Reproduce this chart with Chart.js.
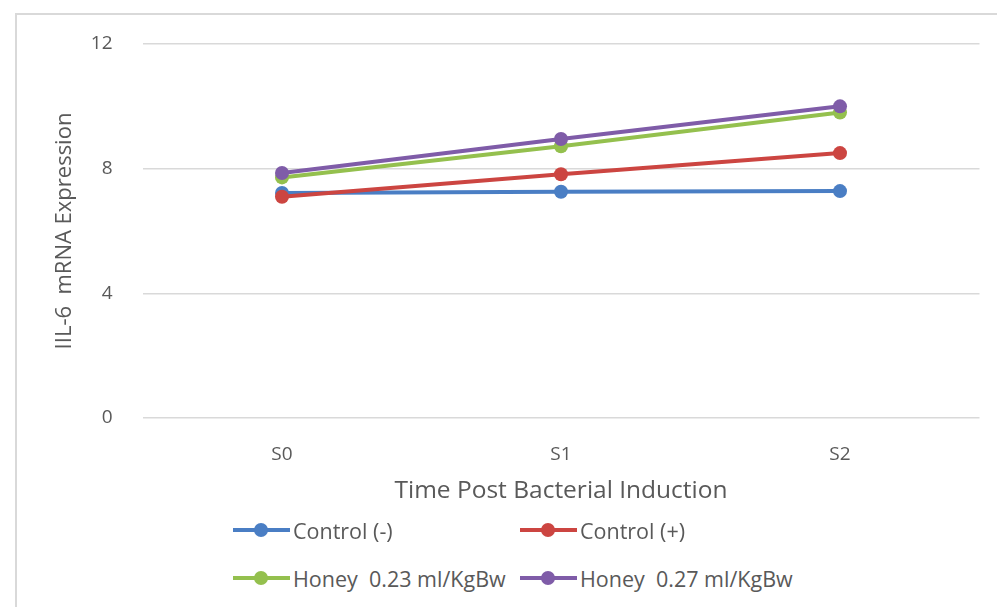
<!DOCTYPE html>
<html lang="en">
<head>
  <meta charset="UTF-8" />
  <title>IL-6 mRNA Expression</title>
  <script src="https://cdn.jsdelivr.net/npm/chart.js"></script>
  <style>
    body {
      margin: 0;
      background: #fff;
      font-family: 'Open Sans', sans-serif;
      width: 997px;
      height: 607px;
      overflow: hidden;
      position: relative;
    }
    #frame {
      position: absolute;
      left: 15px;
      top: 13px;
      width: 1100px;
      height: 700px;
      border: 2px solid #d9d9d9;
    }
    #wrap {
      position: absolute;
      left: 0;
      top: 0;
      width: 997px;
      height: 520px;
    }
    #legend {
      position: absolute;
      left: 0;
      top: 0;
      width: 997px;
    }
    .item {
      position: absolute;
      display: flex;
      align-items: center;
      height: 30px;
      color: #595959;
      font-size: 21.5px;
      white-space: pre;
    }
    .mark {
      position: relative;
      width: 57px;
      height: 16px;
      margin-right: 3px;
    }
    .mark .ln {
      position: absolute;
      left: 0;
      right: 0;
      top: 6px;
      height: 4px;
    }
    .mark .dot {
      position: absolute;
      left: 21px;
      top: 1px;
      width: 14px;
      height: 14px;
      border-radius: 50%;
    }
  </style>
</head>
<body>
  <div id="frame"></div>
  <div id="wrap"><canvas id="chart" width="997" height="520"></canvas></div>
  <div id="legend"></div>

  <script>
    const categories = ['S0', 'S1', 'S2'];
    const controlNeg = [7.22, 7.26, 7.28];
    const controlPos = [7.10, 7.82, 8.50];
    const honey023 = [7.72, 8.72, 9.80];
    const honey027 = [7.86, 8.95, 10.00];

    const seriesNames = ['Control (-)', 'Control (+)', 'Honey  0.23 ml/KgBw', 'Honey  0.27 ml/KgBw'];
    const seriesColors = ['#4a7ec4', '#cc4541', '#94c04e', '#7f5ca8'];
    const seriesData = [controlNeg, controlPos, honey023, honey027];

    const textGray = '#595959';

    const datasets = seriesData.map((d, i) => ({
      label: seriesNames[i],
      data: d,
      borderColor: seriesColors[i],
      backgroundColor: seriesColors[i],
      borderWidth: 4,
      pointRadius: 7,
      pointHoverRadius: 7,
      pointBorderWidth: 0,
      fill: false,
      tension: 0,
      order: seriesData.length - i   // later series drawn on top
    }));

    new Chart(document.getElementById('chart'), {
      type: 'line',
      data: { labels: categories, datasets },
      options: {
        responsive: false,
        animation: false,
        layout: { padding: { top: 44, right: 17.5, bottom: 0, left: 0 } },
        plugins: {
          legend: { display: false },
          tooltip: { enabled: false }
        },
        scales: {
          x: {
            offset: true,
            grid: { display: false, drawTicks: false },
            border: { display: false },
            ticks: {
              color: textGray,
              padding: 25,
              font: { family: 'Open Sans', size: 19 }
            },
            title: {
              display: true,
              text: 'Time Post Bacterial Induction',
              color: textGray,
              font: { family: 'Open Sans', size: 24.5 },
              padding: { top: 0, bottom: 14 }
            },
            afterFit: s => { s.height = 102; }
          },
          y: {
            min: 0,
            max: 12,
            grid: { color: '#d9d9d9', lineWidth: 1.5, drawTicks: false },
            border: { display: false },
            ticks: {
              stepSize: 4,
              color: textGray,
              padding: 30,
              font: { family: 'Open Sans', size: 19 }
            },
            title: {
              display: true,
              text: 'IIL-6  mRNA Expression',
              color: textGray,
              font: { family: 'Open Sans', size: 22 },
              padding: { top: 52, bottom: 0 }
            },
            afterFit: s => { s.width = 142.5; }
          }
        }
      }
    });

    // legend, laid out in two columns like the original
    const legendPos = [[233, 530], [520, 530], [233, 578], [520, 578]];
    const legend = document.getElementById('legend');
    seriesNames.forEach((name, i) => {
      const item = document.createElement('div');
      item.className = 'item';
      item.style.left = legendPos[i][0] + 'px';
      item.style.top = (legendPos[i][1] - 15) + 'px';
      item.innerHTML = `<span class="mark"><span class="ln" style="background:${seriesColors[i]}"></span>` +
        `<span class="dot" style="background:${seriesColors[i]}"></span></span><span></span>`;
      item.lastChild.textContent = name;
      legend.appendChild(item);
    });
  </script>
</body>
</html>
